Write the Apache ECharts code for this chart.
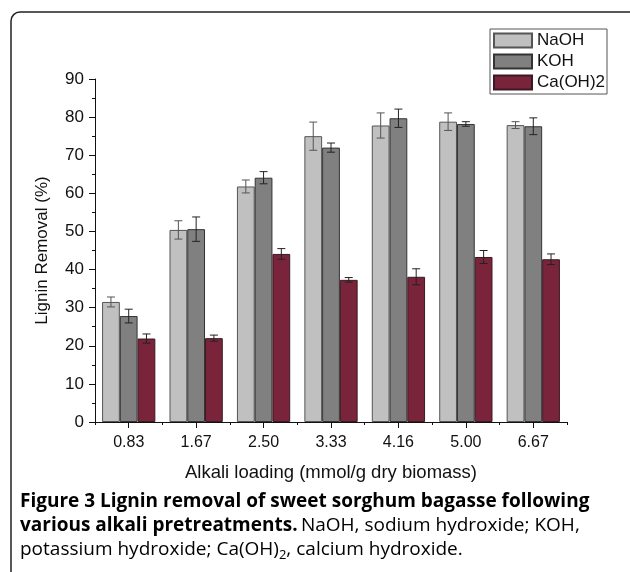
<!DOCTYPE html>
<html>
<head>
<meta charset="utf-8">
<script src="https://cdn.jsdelivr.net/npm/echarts@6/dist/echarts.min.js"></script>
<style>
  html, body { margin: 0; padding: 0; background: #fff; }
  #chart { width: 630px; height: 572px; }
</style>
</head>
<body>
<div id="chart"></div>
<script>
// 알칼리 투입량 (categories)
const loadings = ["0.83", "1.67", "2.50", "3.33", "4.16", "5.00", "6.67"];
const seriesNames = ["NaOH", "KOH", "Ca(OH)2"];

// lignin removal (%)
const naoh = [31.5, 50.4, 61.8, 75.0, 77.8, 78.8, 77.9];
const koh = [27.8, 50.6, 64.1, 72.0, 79.7, 78.2, 77.6];
const caoh = [21.9, 22.0, 44.1, 37.3, 38.1, 43.3, 42.7];

// error (+/-)
const naohErr = [1.3, 2.4, 1.7, 3.7, 3.3, 2.3, 0.9];
const kohErr = [1.8, 3.2, 1.6, 1.2, 2.4, 0.6, 2.2];
const caohErr = [1.2, 0.8, 1.4, 0.6, 2.1, 1.7, 1.4];

const yTicks = [0, 10, 20, 30, 40, 50, 60, 70, 80, 90];

const fills = ["#c0c0c0", "#808080", "#7a243b"];
const borders = ["#555555", "#333333", "#3a1a22"];
const errColors = ["#555555", "#222222", "#222222"];
const catGap = 0.21;
const font = "Liberation Sans";

const chart = echarts.init(document.getElementById("chart"));

// 오차 막대 (custom series)
const errSeries = (values, errs, idx) => ({
  type: "custom",
  name: seriesNames[idx] + " err",
  xAxisIndex: 0,
  z: 10,
  data: values.map((v, i) => [i, v - errs[i], v + errs[i]]),
  renderItem: (params, api) => {
    const band = api.size([1, 0])[0];
    const barW = band * (1 - catGap) / 3;
    const lo = api.coord([api.value(0), api.value(1)]);
    const hi = api.coord([api.value(0), api.value(2)]);
    const x = lo[0] + (idx - 1) * barW;
    const cap = 4;
    const style = { stroke: errColors[idx], lineWidth: 1 };
    return {
      type: "group",
      children: [
        { type: "line", shape: { x1: x, y1: lo[1], x2: x, y2: hi[1] }, style },
        { type: "line", shape: { x1: x - cap, y1: lo[1], x2: x + cap, y2: lo[1] }, style },
        { type: "line", shape: { x1: x - cap, y1: hi[1], x2: x + cap, y2: hi[1] }, style },
      ],
    };
  },
});

const barSeries = (values, idx) => ({
  type: "bar",
  name: seriesNames[idx],
  data: values,
  barGap: "0%",
  barCategoryGap: catGap * 100 + "%",
  itemStyle: {
    color: fills[idx],
    borderColor: borders[idx],
    borderWidth: 1,
  },
});

chart.setOption({
  animation: false,
  textStyle: { fontFamily: font },
  grid: { left: 95, right: 63, top: 79, bottom: 150 },
  legend: {
    data: seriesNames,
    orient: "vertical",
    left: 490,
    top: 29,
    padding: [3, 2, 3, 3],
    itemGap: 4,
    itemWidth: 38,
    itemHeight: 14,
    borderColor: "#555",
    borderWidth: 1,
    textStyle: { fontFamily: font, fontSize: 17, color: "#111", padding: [0, 0, 0, 0] },
    icon: "rect",
  },
  xAxis: [
    {
      type: "category",
      data: loadings,
      name: "Alkali loading (mmol/g dry biomass)",
      nameLocation: "middle",
      nameGap: 41,
      nameTextStyle: { fontFamily: font, fontSize: 18.5, color: "#111" },
      axisLine: { lineStyle: { color: "#111", width: 1 } },
      axisTick: { show: true, alignWithLabel: true, length: 6, lineStyle: { color: "#111" } },
      axisLabel: { fontFamily: font, fontSize: 16, color: "#111", margin: 13 },
    },
    {
      type: "category",
      data: loadings,
      position: "bottom",
      axisLine: { show: false },
      axisTick: { show: true, length: 3, lineStyle: { color: "#111" } },
      axisLabel: { show: false },
    },
  ],
  yAxis: {
    type: "value",
    min: yTicks[0],
    max: yTicks[yTicks.length - 1],
    interval: 10,
    name: "Lignin Removal (%)",
    nameLocation: "middle",
    nameGap: 44,
    nameTextStyle: { fontFamily: font, fontSize: 17, color: "#111" },
    axisLine: { show: true, lineStyle: { color: "#111", width: 1 } },
    axisTick: { show: true, length: 6, lineStyle: { color: "#111" } },
    minorTick: { show: true, splitNumber: 2, length: 3, lineStyle: { color: "#111" } },
    splitLine: { show: false },
    axisLabel: { fontFamily: font, fontSize: 17, color: "#111", margin: 11 },
  },
  series: [
    barSeries(naoh, 0),
    barSeries(koh, 1),
    barSeries(caoh, 2),
    errSeries(naoh, naohErr, 0),
    errSeries(koh, kohErr, 1),
    errSeries(caoh, caohErr, 2),
  ],
  graphic: [
    {
      type: "rect",
      shape: { x: 11, y: 12, width: 800, height: 800, r: 9 },
      style: { fill: null, stroke: "#222", lineWidth: 1.5 },
    },
    {
      type: "text",
      left: 20,
      top: 490,
      style: {
        text: "{b|Figure 3 Lignin removal of sweet sorghum bagasse following}\n{b|various alkali pretreatments.} {n|NaOH, sodium hydroxide; KOH,}\n{n|potassium hydroxide; Ca(OH)}{s|2}{n|, calcium hydroxide.}",
        lineHeight: 24,
        rich: {
          b: { fontFamily: "Open Sans", fontWeight: "bold", fontSize: 19, color: "#222", lineHeight: 24 },
          n: { fontFamily: "Open Sans", fontSize: 19, color: "#555", lineHeight: 24 },
          s: { fontFamily: "Open Sans", fontSize: 13, color: "#555", verticalAlign: "bottom", padding: [8, 0, 0, 0], lineHeight: 24 },
        },
      },
    },
  ],
});
</script>
</body>
</html>
